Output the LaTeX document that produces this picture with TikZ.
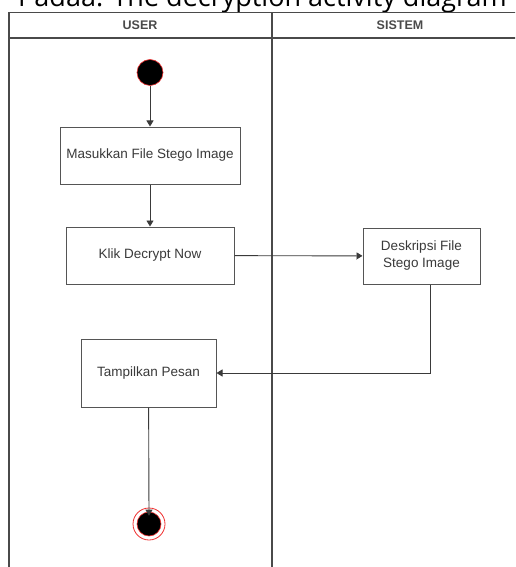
\documentclass[tikz,border=0pt]{standalone}
\usepackage{fontspec}
\setmainfont{Liberation Sans}
\newfontfamily\capfont{Open Sans}
\usetikzlibrary{arrows.meta,positioning,calc}
\definecolor{lanegray}{HTML}{4A4A4A}
\definecolor{boxgray}{HTML}{555555}
\definecolor{inkgray}{HTML}{3A3A3A}
\definecolor{ringred}{HTML}{F03030}

\begin{document}
\begin{tikzpicture}[
x=1pt,y=-1pt,
lane/.style={draw=lanegray,line width=1.6pt},
head/.style={font=\bfseries\fontsize{12.5}{15}\selectfont,text=lanegray},
act/.style={draw=boxgray,line width=1pt,fill=white,align=center,inner sep=2pt,text=inkgray,font=\fontsize{13.5}{17}\selectfont},
arr/.style={-{Triangle[length=6pt,width=7pt]},line width=0.9pt,color=inkgray},
startdot/.style={circle,fill=black,draw=ringred,line width=0.6pt,minimum size=26pt,inner sep=0pt},
enddot/.style={circle,fill=black,draw=ringred,line width=0.6pt,minimum size=24pt,inner sep=0pt}
]
\useasboundingbox (0,0) rectangle (515,567);
\clip (0,0) rectangle (515,567);
\fill[white] (0,0) rectangle (515,567);
% caption cut off at the top edge
\node[anchor=south west,inner sep=0pt,font=\capfont\fontsize{27}{30}\selectfont] (cap) at (18,13) {Padaa. The decryption activity diagram};
% swimlanes
\draw[lane] (9,575) -- (9,12.5) -- (530,12.5);
\draw[lane] (9,38) -- (530,38);
\draw[lane] (272,12.5) -- (272,575);
\node[head] (huser) at (140,25.5) {USER};
\node[head] (hsis) at (400,25.5) {SISTEM};
% actions
\node[startdot] (start) at (150,72.5) {};
\node[act,minimum width=180pt,minimum height=57pt] (masuk) at (150,155.5) {Masukkan File Stego Image};
\node[act,minimum width=168pt,minimum height=57pt] (klik) at (150,255.5) {Klik Decrypt Now};
\node[act,minimum width=117pt,minimum height=56pt] (deskrip) at (421.5,256) {Deskripsi File\\Stego Image};
\node[act,minimum width=135pt,minimum height=68pt] (tampil) at (148.5,373) {Tampilkan Pesan};
\node[enddot] (stop) at (149,524) {};
\draw[ringred,line width=0.8pt] (stop) circle (16pt);
% flow
\draw[arr] (start)--(masuk);
\draw[arr] (masuk)--(klik);
\draw[arr] (klik)--(deskrip);
\draw[arr] ([xshift=8.5pt]deskrip.south) |- (tampil.east);
\draw[arr] (tampil)--([yshift=-4pt]stop.north);
\end{tikzpicture}
\end{document}
